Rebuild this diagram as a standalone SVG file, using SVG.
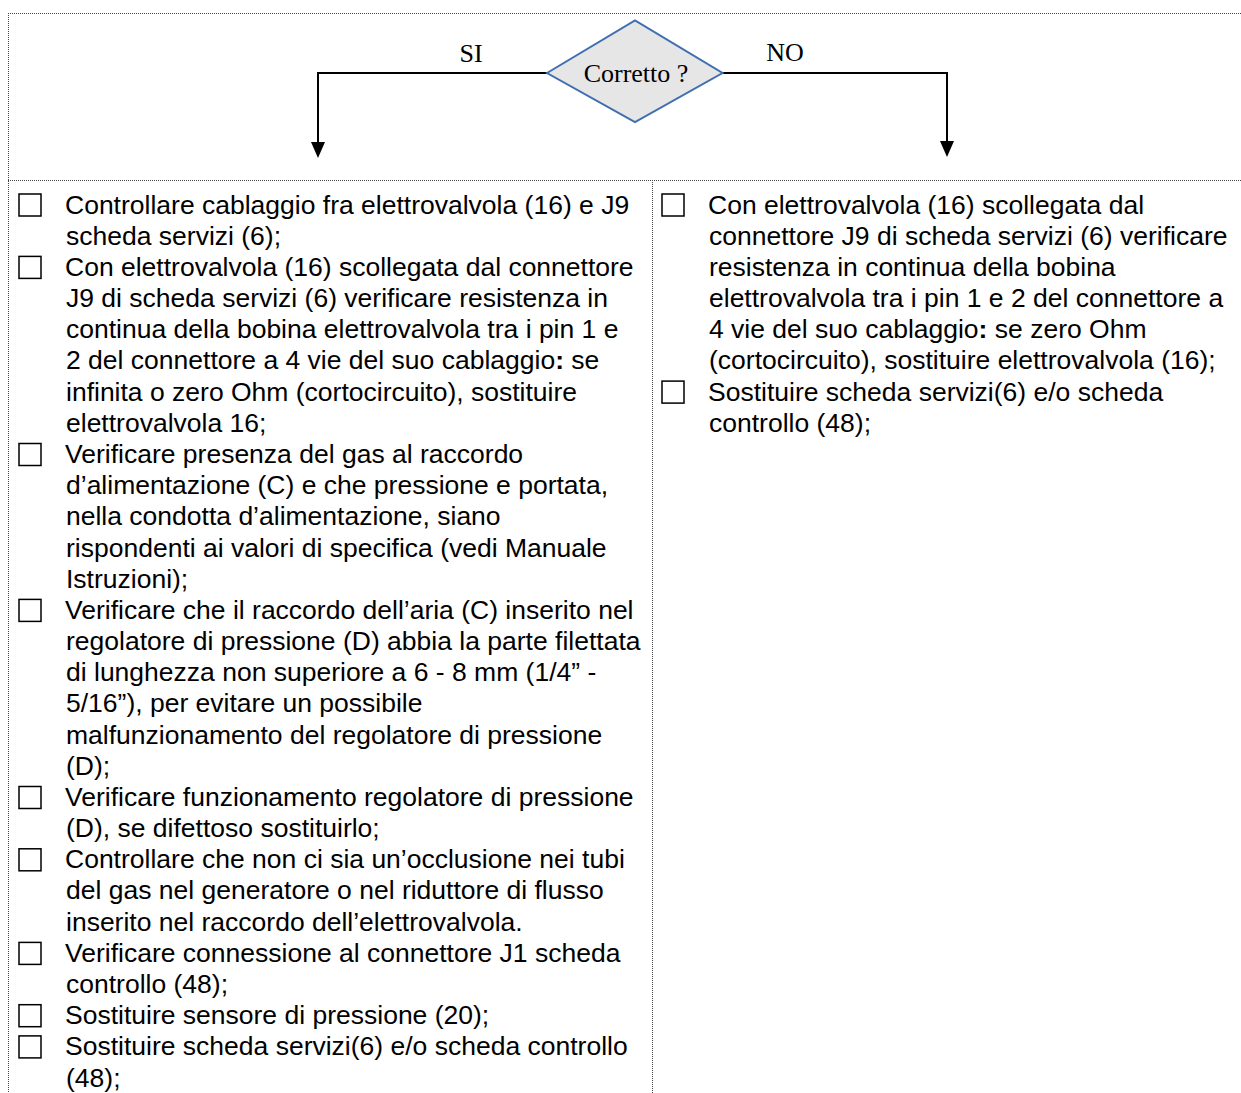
<svg xmlns="http://www.w3.org/2000/svg" width="1241" height="1093" viewBox="0 0 1241 1093">
<style>
.frame{stroke:#444;stroke-width:1;stroke-dasharray:1 1;fill:none}
.conn{stroke:#000;stroke-width:2;fill:none}
.cb{fill:#fff;stroke:#000;stroke-width:1.5}
.t{font-family:"Liberation Sans",Arial,sans-serif;font-size:26.5px;fill:#000}
.lbl{font-family:"Liberation Serif","Times New Roman",serif;font-size:26px;fill:#000}
</style>
<defs>
<marker id="arr" viewBox="0 0 16 14" refX="8" refY="7" markerWidth="16" markerHeight="14" markerUnits="userSpaceOnUse" orient="auto">
<path d="M0,0 L16,7 L0,14 Z" fill="#000"/>
</marker>
</defs>
<rect width="1241" height="1093" fill="#fff"/>
<g id="frame">
<line class="frame" x1="8" y1="13.5" x2="1241" y2="13.5"/>
<line class="frame" x1="8.5" y1="13" x2="8.5" y2="1093"/>
<line class="frame" x1="8" y1="180.5" x2="1241" y2="180.5"/>
<line class="frame" x1="652.5" y1="180" x2="652.5" y2="1093"/>
</g>
<g id="connectors">
<path class="conn" d="M547,73 L318,73 L318,150" marker-end="url(#arr)"/>
<path class="conn" d="M722,73 L947,73 L947,149" marker-end="url(#arr)"/>
<text class="lbl" x="471" y="62" text-anchor="middle">SI</text>
<text class="lbl" x="785" y="61" text-anchor="middle">NO</text>
</g>
<g id="decision">
<polygon points="547,73 635,20.5 722.5,73 635,122" fill="#e6e6e6" stroke="#3f6fb0" stroke-width="2"/>
<text class="lbl" x="636" y="82" text-anchor="middle">Corretto ?</text>
</g>
<g id="si-list">
<rect class="cb" x="19" y="194" width="22" height="22"/>
<rect class="cb" x="19" y="256.4" width="22" height="22"/>
<rect class="cb" x="19" y="443.5" width="22" height="22"/>
<rect class="cb" x="19" y="599.4" width="22" height="22"/>
<rect class="cb" x="19" y="786.5" width="22" height="22"/>
<rect class="cb" x="19" y="848.8" width="22" height="22"/>
<rect class="cb" x="19" y="942.4" width="22" height="22"/>
<rect class="cb" x="19" y="1004.7" width="22" height="22"/>
<rect class="cb" x="19" y="1035.9" width="22" height="22"/>
<text class="t" x="65">
<tspan x="65" y="213.5">Controllare cablaggio fra elettrovalvola (16) e J9</tspan>
<tspan x="66" y="244.7">scheda servizi (6);</tspan>
<tspan x="65" y="275.9">Con elettrovalvola (16) scollegata dal connettore</tspan>
<tspan x="66" y="307.0">J9 di scheda servizi (6) verificare resistenza in</tspan>
<tspan x="66" y="338.2">continua della bobina elettrovalvola tra i pin 1 e</tspan>
<tspan x="66" y="369.4">2 del connettore a 4 vie del suo cablaggio<tspan font-weight="bold">:</tspan> se</tspan>
<tspan x="66" y="400.6">infinita o zero Ohm (cortocircuito), sostituire</tspan>
<tspan x="66" y="431.8">elettrovalvola 16;</tspan>
<tspan x="65" y="462.9">Verificare presenza del gas al raccordo</tspan>
<tspan x="66" y="494.1">d’alimentazione (C) e che pressione e portata,</tspan>
<tspan x="66" y="525.3">nella condotta d’alimentazione, siano</tspan>
<tspan x="66" y="556.5">rispondenti ai valori di specifica (vedi Manuale</tspan>
<tspan x="66" y="587.7">Istruzioni);</tspan>
<tspan x="65" y="618.8">Verificare che il raccordo dell’aria (C) inserito nel</tspan>
<tspan x="66" y="650.0">regolatore di pressione (D) abbia la parte filettata</tspan>
<tspan x="66" y="681.2">di lunghezza non superiore a 6 - 8 mm (1/4” -</tspan>
<tspan x="66" y="712.4">5/16”), per evitare un possibile</tspan>
<tspan x="66" y="743.5">malfunzionamento del regolatore di pressione</tspan>
<tspan x="66" y="774.7">(D);</tspan>
<tspan x="65" y="805.9">Verificare funzionamento regolatore di pressione</tspan>
<tspan x="66" y="837.1">(D), se difettoso sostituirlo;</tspan>
<tspan x="65" y="868.3">Controllare che non ci sia un’occlusione nei tubi</tspan>
<tspan x="66" y="899.4">del gas nel generatore o nel riduttore di flusso</tspan>
<tspan x="66" y="930.6">inserito nel raccordo dell’elettrovalvola.</tspan>
<tspan x="65" y="961.8">Verificare connessione al connettore J1 scheda</tspan>
<tspan x="66" y="993.0">controllo (48);</tspan>
<tspan x="65" y="1024.2">Sostituire sensore di pressione (20);</tspan>
<tspan x="65" y="1055.3">Sostituire scheda servizi(6) e/o scheda controllo</tspan>
<tspan x="66" y="1086.5">(48);</tspan>
</text>
</g>
<g id="no-list">
<rect class="cb" x="662" y="194" width="22" height="22"/>
<rect class="cb" x="662" y="381.1" width="22" height="22"/>
<text class="t">
<tspan x="708" y="213.5">Con elettrovalvola (16) scollegata dal</tspan>
<tspan x="709" y="244.7">connettore J9 di scheda servizi (6) verificare</tspan>
<tspan x="709" y="275.9">resistenza in continua della bobina</tspan>
<tspan x="709" y="307.0">elettrovalvola tra i pin 1 e 2 del connettore a</tspan>
<tspan x="709" y="338.2">4 vie del suo cablaggio<tspan font-weight="bold">:</tspan> se zero Ohm</tspan>
<tspan x="709" y="369.4">(cortocircuito), sostituire elettrovalvola (16);</tspan>
<tspan x="708" y="400.6">Sostituire scheda servizi(6) e/o scheda</tspan>
<tspan x="709" y="431.8">controllo (48);</tspan>
</text>
</g>
</svg>
